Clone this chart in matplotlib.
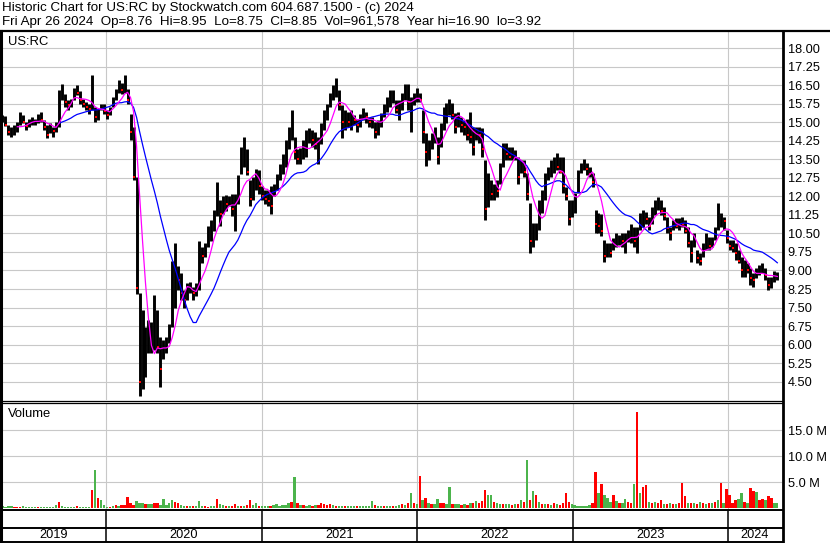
import numpy as np
import pandas as pd
import matplotlib
matplotlib.use('Agg')
import matplotlib.pyplot as plt
from matplotlib.lines import Line2D

plt.rcParams['font.family'] = ['Liberation Sans', 'DejaVu Sans']

# weekly bars (last bar = Fri Apr 26 2024)
highs = [
    15.3, 15.25, 14.9, 14.8, 14.9, 15.0, 15.4, 15.3, 15.0, 15.15,
    15.2, 15.15, 15.35, 15.4, 15.1, 14.9, 14.95, 14.8, 15.0, 16.3,
    16.55, 16.15, 15.9, 15.95, 16.4, 16.5, 16.25, 15.95, 15.8, 15.75,
    16.9, 15.6, 15.55, 15.75, 15.75, 15.5, 15.6, 16.0, 16.35, 16.7,
    16.6, 16.9, 16.35, 15.35, 14.8, 12.8, 8.08, 7.4, 6.7, 7.0,
    6.9, 8.0, 7.4, 6.3, 6.2, 6.3, 6.85, 9.4, 10.1, 9.2,
    8.9, 8.2, 8.5, 8.55, 8.35, 8.5, 10.2, 9.96, 10.1, 10.8,
    11.05, 11.45, 12.6, 11.85, 12.0, 12.05, 12.0, 12.1, 12.1, 12.85,
    14.0, 14.4, 13.9, 12.65, 12.8, 13.1, 13.05, 12.4, 12.25, 12.25,
    12.4, 12.5, 12.9, 13.3, 13.7, 14.3, 14.8, 15.5, 14.4, 13.9,
    13.95, 14.3, 14.7, 14.75, 14.7, 14.6, 14.4, 14.95, 15.5, 15.75,
    16.2, 16.5, 16.77, 16.3, 15.7, 15.5, 15.4, 15.5, 15.29, 15.15,
    15.35, 15.56, 15.4, 15.2, 15.2, 15.0, 15.1, 15.36, 15.75, 16.0,
    16.3, 16.3, 15.9, 15.9, 16.17, 16.53, 16.53, 16.0, 16.2, 16.37,
    16.2, 15.5, 14.55, 14.28, 14.55, 14.82, 14.4, 14.95, 15.6, 15.76,
    15.93, 15.76, 15.36, 15.43, 15.2, 15.09, 15.15, 15.43, 14.82, 14.82,
    14.82, 14.75, 13.47, 12.93, 12.66, 12.52, 12.66, 13.33, 14.15, 14.15,
    14.0, 14.0, 13.87, 13.6, 13.47, 13.47, 12.93, 11.72, 10.91, 10.91,
    11.85, 12.26, 12.93, 13.2, 13.47, 13.6, 13.74, 13.6, 13.6, 12.39,
    11.85, 11.85, 12.12, 13.07, 13.33, 13.5, 13.33, 13.2, 12.93, 11.45,
    11.31, 11.3, 10.23, 10.1, 10.1, 10.3, 10.5, 10.44, 10.5, 10.5,
    10.64, 10.9, 10.77, 10.77, 11.31, 11.45, 11.38, 11.18, 11.58, 11.85,
    11.99, 11.85, 11.58, 11.18, 10.77, 11.04, 11.11, 11.11, 11.18, 11.04,
    10.77, 10.23, 10.5, 9.83, 9.7, 10.1, 10.5, 10.37, 10.37, 10.77,
    11.72, 11.31, 11.18, 10.64, 10.23, 10.23, 10.1, 9.83, 9.56, 9.43,
    9.29, 9.09, 8.89, 9.09, 9.22, 9.32, 9.09, 8.75, 8.75, 8.96,
    8.95,
]
lows = [
    15.0, 14.85, 14.5, 14.4, 14.5, 14.6, 14.9, 14.95, 14.7, 14.8,
    14.9, 14.9, 14.95, 15.0, 14.7, 14.35, 14.55, 14.4, 14.6, 14.8,
    15.9, 15.6, 15.5, 15.6, 15.9, 16.1, 15.75, 15.6, 15.5, 15.35,
    15.5, 15.0, 15.1, 15.5, 15.35, 15.15, 15.3, 15.6, 15.9, 16.2,
    16.15, 16.2, 15.75, 14.3, 12.65, 8.05, 3.92, 4.2, 4.7, 5.65,
    5.65, 5.8, 5.65, 4.3, 5.4, 5.65, 6.05, 6.7, 7.5, 8.2,
    7.8, 7.5, 7.8, 8.1, 7.8, 7.95, 8.2, 9.3, 9.56, 9.96,
    10.2, 10.6, 11.2, 10.8, 11.3, 11.4, 11.6, 11.2, 10.6, 11.7,
    12.9, 13.2, 12.85, 11.6, 11.85, 12.25, 12.1, 11.85, 11.7, 11.6,
    11.3, 12.0, 12.25, 12.65, 12.9, 13.2, 13.9, 14.3, 13.5, 13.3,
    13.3, 13.5, 13.6, 14.15, 14.0, 13.9, 13.3, 14.1, 14.7, 15.1,
    15.6, 15.9, 16.0, 15.5, 14.35, 14.7, 14.8, 14.7, 14.9, 14.6,
    14.8, 15.1, 14.95, 14.8, 14.75, 14.35, 14.5, 14.8, 15.2, 15.4,
    15.6, 15.76, 15.36, 15.1, 15.5, 15.9, 15.5, 14.6, 15.7, 15.83,
    15.83, 14.15, 13.23, 13.47, 13.9, 14.15, 13.3, 14.0, 14.7, 14.95,
    15.3, 15.15, 14.55, 14.82, 14.6, 14.48, 14.28, 14.15, 13.67, 14.28,
    14.15, 13.6, 11.04, 11.58, 11.85, 11.85, 11.99, 12.52, 13.2, 13.47,
    13.47, 13.47, 13.47, 12.52, 12.93, 12.8, 11.85, 9.7, 9.96, 10.23,
    10.64, 11.31, 11.85, 12.66, 12.8, 12.93, 13.07, 12.93, 12.12, 11.85,
    10.84, 11.18, 11.31, 12.12, 12.93, 13.07, 12.87, 12.8, 12.39, 10.5,
    10.5, 10.4, 9.36, 9.56, 9.56, 9.83, 9.96, 10.03, 9.96, 9.72,
    10.17, 10.1, 9.96, 9.7, 10.64, 10.77, 10.9, 10.64, 10.9, 11.25,
    11.45, 11.25, 11.04, 10.5, 10.23, 10.64, 10.7, 10.64, 10.77, 10.5,
    9.96, 9.36, 9.96, 9.29, 9.22, 9.56, 9.83, 9.83, 9.96, 10.23,
    10.64, 10.77, 10.64, 10.1, 9.83, 9.76, 9.43, 9.29, 8.75, 8.75,
    8.89, 8.42, 8.35, 8.69, 8.82, 8.89, 8.62, 8.21, 8.28, 8.55,
    8.62,
]
closes = [
    15.2, 14.9, 14.6, 14.6, 14.7, 14.9, 15.2, 15.0, 14.85, 15.0,
    15.05, 15.1, 15.2, 15.1, 14.8, 14.5, 14.8, 14.65, 14.9, 16.1,
    16.2, 15.8, 15.7, 15.8, 16.3, 16.2, 15.9, 15.75, 15.6, 15.55,
    15.8, 15.2, 15.45, 15.6, 15.45, 15.3, 15.5, 15.9, 16.2, 16.5,
    16.3, 16.45, 15.9, 14.6, 12.8, 8.3, 4.5, 5.2, 5.6, 6.0,
    6.2, 6.3, 5.9, 5.0, 5.8, 6.0, 6.6, 8.5, 8.8, 8.6,
    8.1, 7.8, 8.3, 8.3, 8.1, 8.3, 9.7, 9.6, 9.9, 10.5,
    10.8, 11.2, 11.8, 11.3, 11.8, 11.7, 11.8, 11.5, 11.8, 12.4,
    13.4, 13.6, 13.0, 11.9, 12.6, 13.0, 12.4, 12.0, 11.9, 11.8,
    11.6, 12.3, 12.7, 13.0, 13.4, 14.0, 14.5, 14.6, 13.8, 13.5,
    13.6, 14.0, 14.2, 14.5, 14.3, 14.1, 14.2, 14.7, 15.2, 15.5,
    16.0, 16.2, 16.3, 15.7, 15.0, 15.2, 15.0, 15.3, 15.1, 14.9,
    15.2, 15.3, 15.2, 15.0, 15.1, 14.6, 14.9, 15.2, 15.6, 15.8,
    15.9, 16.1, 15.5, 15.6, 15.9, 16.2, 15.8, 15.9, 15.9, 16.1,
    15.9, 14.6, 13.8, 13.8, 14.3, 14.5, 13.6, 14.8, 15.2, 15.4,
    15.7, 15.3, 14.8, 15.2, 14.9, 14.8, 14.5, 14.4, 14.0, 14.6,
    14.5, 13.9, 11.5, 12.4, 12.1, 12.3, 12.2, 13.0, 13.8, 13.7,
    13.6, 13.8, 13.6, 12.8, 13.3, 13.0, 12.1, 10.2, 10.3, 10.6,
    11.5, 12.0, 12.7, 13.0, 13.1, 13.3, 13.2, 13.0, 12.4, 12.0,
    11.1, 11.5, 12.0, 12.8, 13.2, 13.3, 13.1, 12.9, 12.6, 10.9,
    10.8, 10.6, 9.6, 9.8, 9.7, 10.1, 10.2, 10.3, 10.2, 10.3,
    10.4, 10.6, 10.2, 10.4, 11.0, 11.2, 11.1, 10.8, 11.4, 11.6,
    11.7, 11.4, 11.2, 10.7, 10.5, 10.9, 10.8, 11.0, 10.9, 10.6,
    10.1, 9.7, 10.2, 9.5, 9.4, 9.8, 10.3, 10.0, 10.2, 10.6,
    10.9, 11.1, 11.0, 10.3, 10.0, 9.9, 9.7, 9.4, 9.0, 9.1,
    9.0, 8.7, 8.6, 8.9, 9.0, 9.1, 8.8, 8.4, 8.6, 8.8,
    8.85,
]
# volume in millions, g = up / r = down
vols = [
    0.3, 0.2, 0.3, 0.4, 0.2, 0.2, 0.2, 0.4, 0.1, 0.2,
    0.2, 0.1, 0.2, 0.2, 0.2, 0.1, 0.1, 0.2, 0.5, 1.2,
    0.4, 0.2, 0.1, 0.1, 0.2, 0.4, 0.1, 0.1, 0.1, 0.2,
    3.5, 7.3, 1.9, 1.5, 0.5, 0.2, 0.2, 0.3, 0.6, 0.3,
    0.5, 0.6, 2.2, 0.9, 0.6, 1.3, 1.0, 1.0, 0.8, 0.7,
    0.8, 0.9, 1.0, 0.6, 1.8, 0.5, 1.0, 1.5, 1.2, 1.0,
    0.5, 0.4, 0.4, 0.3, 0.4, 0.3, 1.3, 0.3, 0.3, 0.2,
    0.3, 0.3, 1.7, 0.8, 0.6, 0.4, 0.3, 0.3, 0.7, 0.4,
    0.4, 0.3, 0.5, 1.5, 0.5, 0.9, 0.3, 0.3, 0.3, 0.4,
    0.3, 0.6, 0.8, 0.4, 0.5, 0.5, 0.9, 1.2, 6.0, 1.0,
    0.6, 0.5, 0.4, 0.5, 0.4, 0.5, 0.6, 0.9, 0.7, 0.6,
    0.8, 0.5, 0.4, 0.4, 0.3, 0.4, 0.3, 0.4, 0.4, 0.3,
    0.3, 0.4, 0.3, 0.4, 1.3, 0.5, 0.4, 0.3, 0.3, 0.3,
    0.4, 0.3, 0.3, 0.5, 0.7, 0.6, 1.0, 2.9, 0.9, 0.7,
    6.1, 1.5, 2.0, 1.0, 0.7, 0.8, 1.8, 1.0, 0.9, 0.7,
    4.0, 0.8, 0.7, 0.8, 0.6, 0.7, 0.6, 0.9, 1.0, 1.3,
    1.0, 1.3, 3.4, 2.5, 2.5, 1.2, 1.0, 0.8, 0.8, 0.7,
    0.8, 0.6, 0.8, 0.7, 1.5, 1.2, 9.2, 1.5, 3.2, 2.6,
    1.2, 0.8, 0.7, 0.8, 0.6, 0.9, 0.7, 0.6, 0.9, 2.9,
    1.2, 0.8, 0.5, 0.4, 0.4, 0.3, 0.3, 0.5, 0.9, 6.9,
    2.8, 4.7, 2.5, 2.0, 1.2, 2.5, 1.3, 1.0, 1.0, 1.8,
    1.2, 1.0, 4.6, 18.5, 2.9, 4.1, 4.4, 1.2, 1.0, 1.2,
    0.9, 1.5, 0.8, 0.7, 0.9, 0.7, 0.8, 0.9, 4.9, 2.3,
    1.0, 0.9, 1.0, 0.8, 1.2, 0.9, 0.8, 1.0, 0.9, 1.2,
    1.5, 4.9, 1.0, 3.6, 2.5, 1.0, 1.5, 1.7, 2.9, 1.2,
    1.0, 3.9, 3.2, 3.1, 1.5, 1.8, 1.5, 2.4, 1.9, 1.0,
    1.0,
]
vol_dir = ("ggggrrrggg" "ggrggggggr" "gggggrgggg" "rgrgg"
           "grgrgrrrrr" "gggrggrrgg" "gggrrggrgr" "gggrrggrgg" "rgrrgrgrrg" "grg"
           "ggrggggggr" "grgrggrgrr" "rrrgrggrgg" "grgggggrgg" "rggrggrgrg" "rg"
           "rgrgrggrrg" "grggrgrgrg" "rrrggrggrg" "grgrgrgrgr" "grgrgrgrrr" "rg"
           "ggggggrrgr" "gggrgrggrr" "grgrrgrgrr" "grgrgrrrgr" "grgrgrgrgr" "gr"
           "rrrggrgrrgrrgrrgg")

dates = pd.date_range(end='2024-04-26', periods=len(closes), freq='W-FRI')
years = [2019, 2020, 2021, 2022, 2023, 2024]
price_ticks = np.arange(4.5, 18.01, 0.75)
vol_ticks = [5, 10, 15]

x0, x1 = pd.Timestamp('2019-05-02'), pd.Timestamp('2024-05-07')
grid_c = '#c8c8c8'
W, H = 830, 543

def fx(x):
    return x / W

def fy(y):
    return 1 - y / H

fig = plt.figure(figsize=(8.3, 5.43), dpi=100)

ax_p = fig.add_axes([fx(2), fy(400), fx(782) - fx(2), fy(32) - fy(400)])
ax_v = fig.add_axes([fx(2), fy(509.5), fx(782) - fx(2), fy(403) - fy(509.5)])
ax_d = fig.add_axes([fx(2), fy(542), fx(782) - fx(2), fy(510.5) - fy(542)])

year_starts = [pd.Timestamp(f'{y}-01-01') for y in years[1:]]

for ax in (ax_p, ax_v, ax_d):
    ax.set_xlim(x0, x1)
    for s in ax.spines.values():
        s.set_visible(False)

# price panel
close_s = pd.Series(closes)
ma_fast = close_s.rolling(6).mean()
ma_slow = close_s.rolling(20).mean()
down = (close_s.diff() < 0).values

ax_p.set_ylim(3.76, 18.65)
for t in price_ticks:
    ax_p.axhline(t, color=grid_c, lw=0.8, zorder=0)
for d in year_starts:
    ax_p.axvline(d, color=grid_c, lw=0.8, zorder=0)
ax_p.vlines(dates, lows, highs, color='black', lw=2.1, zorder=2)
ax_p.plot(dates[down] + pd.Timedelta(days=2), np.array(closes)[down], 's',
          color='red', ms=1.5, mew=0, zorder=3)
ax_p.plot(dates, ma_slow, color='#0000ff', lw=0.9, zorder=4)
ax_p.plot(dates, ma_fast, color='#ff00ff', lw=0.9, zorder=5)
ax_p.set_yticks(price_ticks)
ax_p.set_yticklabels([f'{t:.2f}' for t in price_ticks])
ax_p.yaxis.tick_right()
ax_p.tick_params(axis='y', length=0, pad=4.0, labelsize=9.2)
ax_p.set_xticks([])
ax_p.text(fx(6) / (fx(782) - fx(2)), 0.972, 'US:RC', transform=ax_p.transAxes,
          fontsize=9.4, va='center', ha='left')

# volume panel
ax_v.set_ylim(-0.3, 20.3)
for t in vol_ticks:
    ax_v.axhline(t, color=grid_c, lw=0.8, zorder=0)
for d in year_starts:
    ax_v.axvline(d, color=grid_c, lw=0.8, zorder=0)
colors = ['#4cb44c' if c == 'g' else '#ff0000' for c in vol_dir]
ax_v.bar(dates, vols, width=5.5, color=colors, zorder=2)
ax_v.set_yticks(vol_ticks)
ax_v.set_yticklabels([f'{t:.1f} M' for t in vol_ticks])
ax_v.yaxis.tick_right()
ax_v.tick_params(axis='y', length=0, pad=4.0, labelsize=9.2)
ax_v.set_xticks([])
ax_v.text(0.0075, 0.9, 'Volume', transform=ax_v.transAxes,
          fontsize=9.4, va='center', ha='left')

# date strip
ax_d.set_ylim(0, 1)
ax_d.set_xticks([])
ax_d.set_yticks([])
for d in year_starts:
    ax_d.axvline(d, color='black', lw=1.1)
edges = [x0] + year_starts + [x1]
for y, a, b in zip(years, edges[:-1], edges[1:]):
    ax_d.text(a + (b - a) / 2, 0.23, str(y), ha='center', va='center', fontsize=9.2)

# frame lines
def hline(y, xa, xb, lw):
    fig.add_artist(Line2D([fx(xa), fx(xb)], [fy(y), fy(y)], color='black', lw=lw))

def vline(x, ya, yb, lw):
    fig.add_artist(Line2D([fx(x), fx(x)], [fy(ya), fy(yb)], color='black', lw=lw))

hline(31, 0, 830, 1.6)
hline(400.5, 0, 783, 0.9)
hline(402.8, 0, 783, 0.9)
hline(510, 0, 783, 1.4)
hline(527.5, 0, 783, 1.4)
hline(542, 0, 783, 1.4)
vline(1, 31, 543, 2.2)
vline(783, 31, 543, 2.0)

# header
fig.text(fx(2), fy(8), 'Historic Chart for US:RC by Stockwatch.com 604.687.1500 - (c) 2024',
         fontsize=9.6, va='center', ha='left')
fig.text(fx(2), fy(22), 'Fri Apr 26 2024  Op=8.76  Hi=8.95  Lo=8.75  Cl=8.85  '
         'Vol=961,578  Year hi=16.90  lo=3.92', fontsize=9.6, va='center', ha='left')

fig.savefig('out.png', dpi=100)
